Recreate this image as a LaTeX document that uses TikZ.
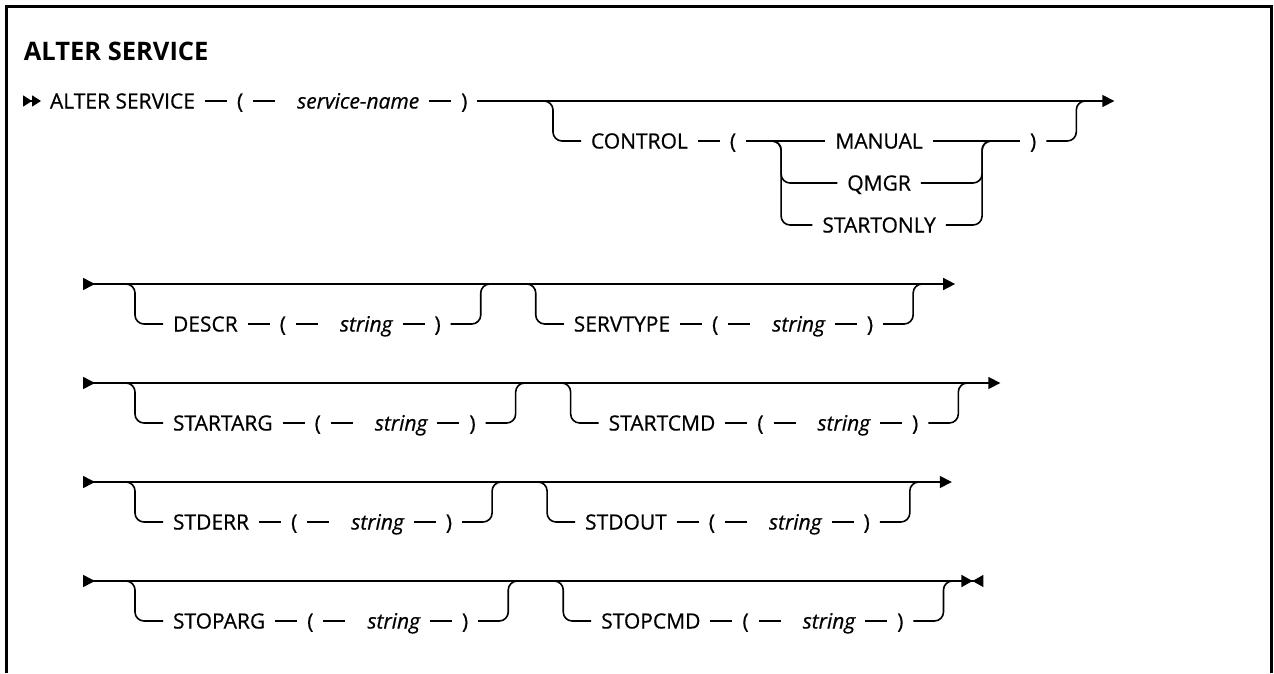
\documentclass[tikz,border=0pt]{standalone}
\usepackage{fontspec}
\setmainfont{Open Sans}
\newfontfamily\diagfont{Open Sans}[FakeBold=0.6]
\usetikzlibrary{positioning,arrows.meta}
\begin{document}
\begin{tikzpicture}[x=1pt, y=-1pt, line width=1.6pt, node distance=22pt,
  tok/.style={inner sep=0pt, outer xsep=10pt, outer ysep=0pt, text height=16pt, text depth=1pt, font=\diagfont\fontsize{21}{25}\selectfont},
  kw/.style={tok, anchor=west},
  var/.style={tok, font=\diagfont\fontsize{21}{25}\selectfont\itshape, execute at begin node={\hspace*{12pt}}},
  branch/.style={rounded corners=9pt},
  rowfirst/.style={arrows={Triangle[reversed,length=9pt,width=11pt] Triangle[reversed,length=9pt,width=11pt]-}},
  rowend/.style={arrows={-Triangle[length=12pt,width=12pt]}},
  rowline/.style={arrows={Triangle[reversed,length=12pt,width=12pt]-Triangle[length=12pt,width=12pt]}},
  rowlast/.style={arrows={Triangle[reversed,length=12pt,width=12pt]-Triangle[length=11pt,width=12pt] Triangle[reversed,length=11pt,width=12pt]}}]
  \useasboundingbox (0,0) rectangle (1274,673);
  \draw[line width=2.6pt] (6.3,673) -- (6.3,6.3) -- (1271.3,6.3) -- (1271.3,673);

  \node[anchor=west, inner sep=0pt, font=\fontsize{25.5}{30}\selectfont\bfseries] (title) at (23,51) {ALTER SERVICE};

  % row 1
  \coordinate (r1s) at (23,101);
  \node[kw] (alter) at (40,101) {ALTER SERVICE};
  \node[tok, right=of alter] (alterL) {(};
  \node[var, right=of alterL] (svc) {service-name};
  \node[tok, right=of svc] (alterR) {)};
  \draw[rowfirst] (r1s) -- (alter);
  \draw (alter) -- (alterL) (alterL) -- (svc) (svc) -- (alterR);

  \coordinate (j1a) at (543,101);
  \node[kw] (control) at ([shift={(38,40)}]j1a) {CONTROL};
  \node[tok, right=of control] (controlL) {(};
  \coordinate[right=25pt of controlL] (cl);
  \node[tok] (manual) at ([xshift=108pt]cl) {MANUAL};
  \node[tok] (qmgr) at ([shift={(108,42)}]cl) {QMGR};
  \node[tok] (startonly) at ([shift={(108,84)}]cl) {STARTONLY};
  \coordinate (cr) at ([xshift=221pt]cl);
  \node[kw] (controlR) at ([xshift=28pt]cr) {)};
  \coordinate (j1b) at ([shift={(40,-40)}]controlR.east);
  \coordinate (r1e) at ([xshift=28pt]j1b);
  \draw[rowend] (alterR) -- (r1e);
  \draw[branch] (j1a) -| ++(10,40) -- (control);
  \draw (control) -- (controlL) (controlL) -- (manual) (manual) -- (controlR);
  \draw[branch] (cl) -| ++(10,42) -- (qmgr);
  \draw[branch] (cl) -| ++(10,84) -- (startonly);
  \draw[branch] (qmgr) -| ([xshift=-10pt]cr) -- (cr);
  \draw[branch] (startonly) -| ([xshift=-10pt]cr) -- (cr);
  \draw[branch] (controlR) -| ([xshift=-10pt]j1b) -- (j1b);

  % row 2
  \coordinate (r2s) at (83,284);
  \coordinate (j2a) at (125,284);
  \node[kw] (descr) at ([shift={(38,40)}]j2a) {DESCR};
  \node[tok, right=of descr] (descrL) {(};
  \node[var, right=of descrL] (descrV) {string};
  \node[tok, right=of descrV] (descrR) {)};
  \coordinate (j2b) at ([shift={(40,-40)}]descrR.east);
  \coordinate (j2c) at ([xshift=35pt]j2b);
  \node[kw] (servtype) at ([shift={(38,40)}]j2c) {SERVTYPE};
  \node[tok, right=of servtype] (servtypeL) {(};
  \node[var, right=of servtypeL] (servtypeV) {string};
  \node[tok, right=of servtypeV] (servtypeR) {)};
  \coordinate (j2d) at ([shift={(40,-40)}]servtypeR.east);
  \coordinate (r2e) at ([xshift=32pt]j2d);
  \draw[rowline] (r2s) -- (r2e);
  \draw[branch] (j2a) -| ++(10,40) -- (descr);
  \draw (descr) -- (descrL) (descrL) -- (descrV) (descrV) -- (descrR);
  \draw[branch] (descrR) -| ([xshift=-10pt]j2b) -- (j2b);
  \draw[branch] (j2c) -| ++(10,40) -- (servtype);
  \draw (servtype) -- (servtypeL) (servtypeL) -- (servtypeV) (servtypeV) -- (servtypeR);
  \draw[branch] (servtypeR) -| ([xshift=-10pt]j2d) -- (j2d);

  % row 3
  \coordinate (r3s) at (83,383);
  \coordinate (j3a) at (125,383);
  \node[kw] (startarg) at ([shift={(38,40)}]j3a) {STARTARG};
  \node[tok, right=of startarg] (startargL) {(};
  \node[var, right=of startargL] (startargV) {string};
  \node[tok, right=of startargV] (startargR) {)};
  \coordinate (j3b) at ([shift={(40,-40)}]startargR.east);
  \coordinate (j3c) at ([xshift=35pt]j3b);
  \node[kw] (startcmd) at ([shift={(38,40)}]j3c) {STARTCMD};
  \node[tok, right=of startcmd] (startcmdL) {(};
  \node[var, right=of startcmdL] (startcmdV) {string};
  \node[tok, right=of startcmdV] (startcmdR) {)};
  \coordinate (j3d) at ([shift={(40,-40)}]startcmdR.east);
  \coordinate (r3e) at ([xshift=32pt]j3d);
  \draw[rowline] (r3s) -- (r3e);
  \draw[branch] (j3a) -| ++(10,40) -- (startarg);
  \draw (startarg) -- (startargL) (startargL) -- (startargV) (startargV) -- (startargR);
  \draw[branch] (startargR) -| ([xshift=-10pt]j3b) -- (j3b);
  \draw[branch] (j3c) -| ++(10,40) -- (startcmd);
  \draw (startcmd) -- (startcmdL) (startcmdL) -- (startcmdV) (startcmdV) -- (startcmdR);
  \draw[branch] (startcmdR) -| ([xshift=-10pt]j3d) -- (j3d);

  % row 4
  \coordinate (r4s) at (83,482);
  \coordinate (j4a) at (125,482);
  \node[kw] (stderr) at ([shift={(38,40)}]j4a) {STDERR};
  \node[tok, right=of stderr] (stderrL) {(};
  \node[var, right=of stderrL] (stderrV) {string};
  \node[tok, right=of stderrV] (stderrR) {)};
  \coordinate (j4b) at ([shift={(40,-40)}]stderrR.east);
  \coordinate (j4c) at ([xshift=35pt]j4b);
  \node[kw] (stdout) at ([shift={(38,40)}]j4c) {STDOUT};
  \node[tok, right=of stdout] (stdoutL) {(};
  \node[var, right=of stdoutL] (stdoutV) {string};
  \node[tok, right=of stdoutV] (stdoutR) {)};
  \coordinate (j4d) at ([shift={(40,-40)}]stdoutR.east);
  \coordinate (r4e) at ([xshift=32pt]j4d);
  \draw[rowline] (r4s) -- (r4e);
  \draw[branch] (j4a) -| ++(10,40) -- (stderr);
  \draw (stderr) -- (stderrL) (stderrL) -- (stderrV) (stderrV) -- (stderrR);
  \draw[branch] (stderrR) -| ([xshift=-10pt]j4b) -- (j4b);
  \draw[branch] (j4c) -| ++(10,40) -- (stdout);
  \draw (stdout) -- (stdoutL) (stdoutL) -- (stdoutV) (stdoutV) -- (stdoutR);
  \draw[branch] (stdoutR) -| ([xshift=-10pt]j4d) -- (j4d);

  % row 5
  \coordinate (r5s) at (83,581);
  \coordinate (j5a) at (125,581);
  \node[kw] (stoparg) at ([shift={(38,40)}]j5a) {STOPARG};
  \node[tok, right=of stoparg] (stopargL) {(};
  \node[var, right=of stopargL] (stopargV) {string};
  \node[tok, right=of stopargV] (stopargR) {)};
  \coordinate (j5b) at ([shift={(40,-40)}]stopargR.east);
  \coordinate (j5c) at ([xshift=35pt]j5b);
  \node[kw] (stopcmd) at ([shift={(38,40)}]j5c) {STOPCMD};
  \node[tok, right=of stopcmd] (stopcmdL) {(};
  \node[var, right=of stopcmdL] (stopcmdV) {string};
  \node[tok, right=of stopcmdV] (stopcmdR) {)};
  \coordinate (j5d) at ([shift={(40,-40)}]stopcmdR.east);
  \coordinate (r5e) at ([xshift=30pt]j5d);
  \draw[rowlast] (r5s) -- (r5e);
  \draw[branch] (j5a) -| ++(10,40) -- (stoparg);
  \draw (stoparg) -- (stopargL) (stopargL) -- (stopargV) (stopargV) -- (stopargR);
  \draw[branch] (stopargR) -| ([xshift=-10pt]j5b) -- (j5b);
  \draw[branch] (j5c) -| ++(10,40) -- (stopcmd);
  \draw (stopcmd) -- (stopcmdL) (stopcmdL) -- (stopcmdV) (stopcmdV) -- (stopcmdR);
  \draw[branch] (stopcmdR) -| ([xshift=-10pt]j5d) -- (j5d);
\end{tikzpicture}
\end{document}
